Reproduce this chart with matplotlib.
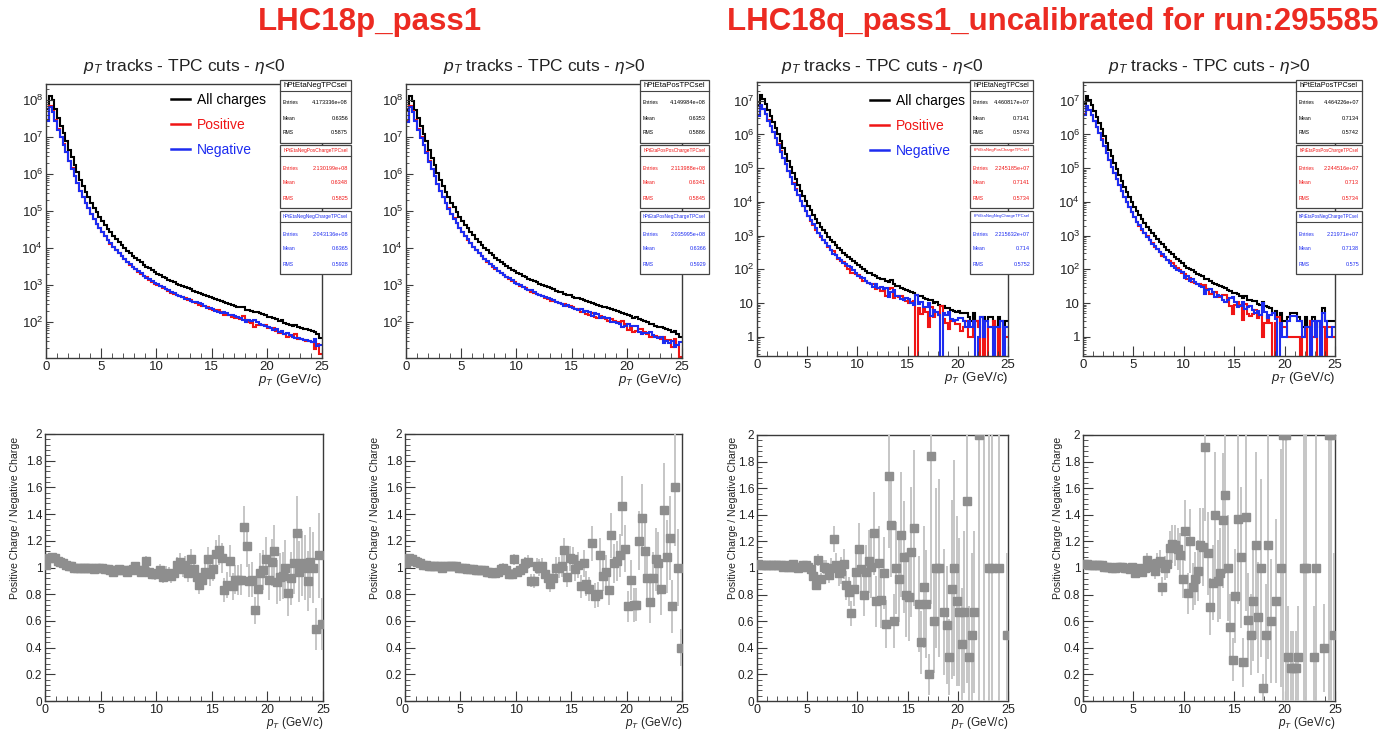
import numpy as np
import matplotlib.pyplot as plt
from matplotlib.lines import Line2D
from matplotlib.patches import Rectangle
from matplotlib.ticker import MultipleLocator, LogLocator, FuncFormatter, NullFormatter
from matplotlib.transforms import offset_copy

plt.rcParams['font.family'] = ['Liberation Sans', 'DejaVu Sans']
plt.rcParams['mathtext.fontset'] = 'custom'
plt.rcParams['mathtext.rm'] = 'Liberation Sans'
plt.rcParams['mathtext.it'] = 'Liberation Sans:italic'
plt.rcParams['mathtext.bf'] = 'Liberation Sans:bold'

W, H = 1397, 731
edges = np.linspace(0, 25, 101)
centers = 0.5 * (edges[:-1] + edges[1:])
inf = np.inf

# log10 of the all-charges counts per 0.25 GeV/c bin
logn_p_neg = [7.75, 8.12, 8.00, 7.75, 7.50, 7.30, 7.10, 6.90, 6.65, 6.45,
              6.25, 6.05, 5.85, 5.68, 5.52, 5.37, 5.22, 5.09, 4.96, 4.84,
              4.73, 4.62, 4.52, 4.42, 4.33, 4.24, 4.16, 4.08, 4.00, 3.93,
              3.86, 3.79, 3.73, 3.67, 3.61, 3.55, 3.50, 3.45, 3.40, 3.35,
              3.31, 3.27, 3.23, 3.19, 3.15, 3.11, 3.08, 3.04, 3.01, 2.98,
              2.94, 2.91, 2.88, 2.85, 2.82, 2.79, 2.76, 2.73, 2.70, 2.67,
              2.64, 2.62, 2.59, 2.56, 2.54, 2.52, 2.49, 2.47, 2.44, 2.42,
              2.40, 2.41, 2.33, 2.33, 2.31, 2.27, 2.26, 2.24, 2.22, 2.20,
              2.15, 2.14, 2.12, 2.08, 2.02, 2.05, 1.98, 1.95, 1.93, 1.90,
              1.92, 1.86, 1.85, 1.82, 1.80, 1.79, 1.76, 1.72, 1.68, 1.58]
logn_p_pos = [7.72, 8.12, 7.98, 7.74, 7.50, 7.29, 7.09, 6.88, 6.64, 6.44,
              6.24, 6.04, 5.85, 5.68, 5.52, 5.37, 5.23, 5.10, 4.97, 4.85,
              4.74, 4.63, 4.53, 4.43, 4.34, 4.25, 4.17, 4.09, 4.01, 3.94,
              3.87, 3.80, 3.74, 3.68, 3.62, 3.57, 3.52, 3.47, 3.42, 3.37,
              3.33, 3.29, 3.25, 3.21, 3.17, 3.14, 3.10, 3.07, 3.04, 3.00,
              2.97, 2.94, 2.91, 2.88, 2.85, 2.82, 2.80, 2.77, 2.74, 2.72,
              2.69, 2.66, 2.64, 2.61, 2.59, 2.56, 2.54, 2.51, 2.49, 2.47,
              2.44, 2.42, 2.40, 2.37, 2.35, 2.32, 2.30, 2.28, 2.25, 2.23,
              2.18, 2.17, 2.12, 2.14, 2.08, 2.06, 2.02, 2.00, 1.96, 1.94,
              1.90, 1.88, 1.87, 1.83, 1.80, 1.78, 1.72, 1.75, 1.68, 1.60]
logn_q_neg = [6.87, 7.17, 7.05, 6.90, 6.72, 6.55, 6.38, 6.20, 6.00, 5.80,
              5.60, 5.42, 5.22, 5.03, 4.85, 4.67, 4.50, 4.33, 4.18, 4.03,
              3.88, 3.75, 3.62, 3.50, 3.38, 3.27, 3.17, 3.07, 2.97, 2.88,
              2.80, 2.72, 2.62, 2.56, 2.50, 2.42, 2.36, 2.30, 2.24, 2.18,
              2.12, 2.06, 2.00, 1.95, 1.90, 1.88, 1.82, 1.80, 1.75, 1.72,
              1.70, 1.66, 1.62, 1.68, 1.58, 1.52, 1.50, 1.46, 1.42, 1.40,
              1.36, 1.32, 1.30, 1.25, 1.22, 1.20, 1.15, 1.12, 1.08, 1.08,
              1.00, 1.04, 0.95, 0.90, 0.92, 0.85, 0.85, 0.80, 0.78, 0.75,
              0.78, 0.70, 0.70, 0.70, 0.60, 0.48, 0.70, 0.48, 0.48, 0.60,
              0.60, 0.48, 0.60, 0.60, 0.48, 0.30, 0.60, 0.48, 0.30, 0.48]
logn_q_pos = [6.90, 7.15, 7.03, 6.88, 6.70, 6.52, 6.34, 6.15, 5.95, 5.75,
              5.55, 5.35, 5.15, 4.97, 4.80, 4.62, 4.45, 4.30, 4.15, 4.00,
              3.85, 3.72, 3.60, 3.48, 3.37, 3.27, 3.17, 3.07, 2.98, 2.90,
              2.82, 2.74, 2.66, 2.58, 2.52, 2.45, 2.38, 2.32, 2.26, 2.20,
              2.10, 2.05, 2.00, 1.97, 1.92, 1.87, 1.84, 1.80, 1.72, 1.70,
              1.66, 1.60, 1.56, 1.53, 1.50, 1.47, 1.45, 1.40, 1.35, 1.30,
              1.30, 1.27, 1.22, 1.15, 1.20, 1.10, 1.08, 1.05, 1.05, 0.98,
              0.95, 1.04, 0.90, 0.88, 0.85, 0.70, 0.78, 0.60, 0.70, 0.48,
              0.48, 0.60, 0.70, 0.70, 0.70, 0.60, 0.48, 0.30, 0.60, 0.30,
              0.48, 0.60, 0.30, 0.48, 0.30, 0.85, 0.48, 0.48, 0.48, 0.48]

# positive / negative ratio per bin (0: no positive track, inf: no negative track)
ratio_p_neg = [1.02, 1.07, 1.08, 1.07, 1.05, 1.04, 1.03, 1.02, 1.01, 1.01,
               1.00, 1.00, 1.00, 1.00, 1.00, 1.00, 1.00, 0.99, 1.00, 1.00,
               1.00, 0.99, 0.99, 0.98, 0.97, 0.98, 0.99, 0.98, 0.98, 0.97,
               0.98, 0.99, 1.01, 0.98, 0.97, 0.98, 1.05, 0.97, 0.95, 0.95,
               0.96, 0.98, 0.93, 0.96, 0.95, 0.94, 0.96, 1.02, 1.04, 0.99,
               1.02, 0.96, 1.06, 0.99, 0.93, 0.87, 0.91, 0.97, 1.06, 0.95,
               0.99, 1.10, 1.13, 1.07, 0.83, 0.87, 1.05, 0.86, 0.91, 0.91,
               0.91, 1.30, 1.16, 0.90, 0.91, 0.68, 0.84, 0.96, 0.98, 1.06,
               0.91, 1.04, 1.12, 0.89, 0.93, 0.94, 1.00, 0.81, 0.92, 1.03,
               1.26, 0.97, 1.03, 1.00, 0.90, 1.04, 1.00, 0.54, 1.09, 0.58]
ratio_p_pos = [1.03, 1.07, 1.06, 1.05, 1.04, 1.03, 1.02, 1.02, 1.01, 1.01,
               1.01, 1.01, 1.01, 1.00, 1.01, 1.01, 1.01, 1.01, 1.01, 1.00,
               1.00, 1.00, 0.99, 0.99, 0.99, 0.98, 0.98, 0.98, 0.98, 0.97,
               0.97, 0.96, 0.96, 0.97, 0.99, 1.00, 0.98, 0.95, 0.95, 1.06,
               0.97, 0.98, 1.00, 1.03, 1.04, 0.90, 0.90, 1.01, 1.00, 1.01,
               0.95, 0.92, 0.88, 0.92, 1.00, 1.00, 1.01, 1.13, 0.93, 1.07,
               1.06, 0.99, 1.02, 0.86, 1.03, 0.88, 0.84, 1.18, 0.79, 0.80,
               1.09, 0.94, 0.97, 0.83, 1.24, 1.03, 1.05, 1.09, 1.46, 1.14,
               0.71, 0.91, 0.72, 0.72, 1.20, 1.37, 1.12, 0.92, 0.74, 0.92,
               1.06, 1.03, 0.84, 1.43, 1.08, 1.22, 0.71, 1.60, 1.00, 0.40]
ratio_q_neg = [1.03, 1.02, 1.02, 1.02, 1.02, 1.02, 1.02, 1.02, 1.02, 1.02,
               1.01, 1.02, 1.01, 1.01, 1.03, 1.01, 1.00, 1.01, 1.02, 1.02,
               1.01, 0.99, 0.94, 0.87, 1.06, 0.92, 1.01, 1.00, 0.95, 1.00,
               1.22, 1.02, 0.96, 0.98, 1.03, 0.87, 0.82, 0.66, 0.84, 0.97,
               1.14, 0.99, 0.80, 0.97, 1.05, 1.01, 1.26, 0.75, 1.04, 0.76,
               0.96, 0.58, 1.69, 1.32, 0.60, 1.00, 0.92, 1.25, 1.08, 0.80,
               0.78, 1.12, 1.30, 0, 0.73, 0.44, 0.86, 0.73, 0.20, 1.84,
               0.60, 1.00, 1.00, inf, 0.67, 0.57, 0.33, 0.84, 1.00, 0.75,
               0.67, 0.43, 0.67, 1.50, 0.33, 0.50, 0.67, inf, 2.00, 0,
               3.00, 0, 1.00, 1.00, inf, 0, 1.00, 0, inf, 0.50]
ratio_q_pos = [1.03, 1.03, 1.02, 1.02, 1.02, 1.02, 1.02, 1.02, 1.01, 1.01,
               1.01, 1.00, 1.00, 1.01, 1.01, 1.01, 1.00, 1.00, 0.99, 1.01,
               0.96, 1.00, 0.99, 0.97, 1.00, 1.06, 1.03, 1.01, 0.98, 1.04,
               1.05, 0.86, 1.00, 1.03, 1.15, 1.18, 1.17, 1.14, 1.10, 0.92,
               1.28, 0.81, 1.20, 0.86, 0.92, 0.98, 1.17, 1.16, 1.91, 1.11,
               0.71, 0.89, 1.40, 0.90, 0.96, 1.36, 1.55, 1.00, 0.56, 0.31,
               0.79, 1.37, 1.08, 0.29, 1.38, 0.61, 0.50, 0.75, 1.17, 0.63,
               1.00, 0.10, 0.50, 1.17, 0.60, 0, 0.75, inf, 1.00, 2.00,
               2.00, 0.33, 0.25, 0.25, 0.25, 0.33, 0, 1.00, 1.00, 0,
               inf, 0.33, 1.00, 0, inf, 0.40, 0, 2.00, 2.00, 0.50]

titles = [r'$p_{T}$ tracks - TPC cuts - $\eta$<0', r'$p_{T}$ tracks - TPC cuts - $\eta$>0',
          r'$p_{T}$ tracks - TPC cuts - $\eta$<0', r'$p_{T}$ tracks - TPC cuts - $\eta$>0']
hist_names = [['hPtEtaNegTPCsel', 'hPtEtaNegPosChargeTPCsel', 'hPtEtaNegNegChargeTPCsel'],
              ['hPtEtaPosTPCsel', 'hPtEtaPosPosChargeTPCsel', 'hPtEtaPosNegChargeTPCsel'],
              ['hPtEtaNegTPCsel', 'hPtEtaNegPosChargeTPCsel', 'hPtEtaNegNegChargeTPCsel'],
              ['hPtEtaPosTPCsel', 'hPtEtaPosPosChargeTPCsel', 'hPtEtaPosNegChargeTPCsel']]
entries = [['4.173336e+08', '2.130199e+08', '2.043136e+08'],
           ['4.149984e+08', '2.113988e+08', '2.035995e+08'],
           ['4.460817e+07', '2.245185e+07', '2.215632e+07'],
           ['4.464226e+07', '2.244516e+07', '2.21971e+07']]
means = [['0.6356', '0.6348', '0.6365'], ['0.6353', '0.6341', '0.6366'],
         ['0.7141', '0.7141', '0.714'], ['0.7134', '0.713', '0.7138']]
rmss = [['0.5875', '0.5825', '0.5928'], ['0.5886', '0.5845', '0.5929'],
        ['0.5743', '0.5734', '0.5752'], ['0.5742', '0.5734', '0.575']]

logns = [logn_p_neg, logn_p_pos, logn_q_neg, logn_q_pos]
ratios = [ratio_p_neg, ratio_p_pos, ratio_q_neg, ratio_q_pos]

RED, BLUE = '#f01515', '#1d2cf0'
colors = ['black', RED, BLUE]

# pixel layout (left, right, top, bottom)
top_boxes = [(46, 322, 84, 358), (406, 682, 84, 358), (757, 1008, 82, 356), (1083, 1335, 82, 356)]
bot_boxes = [(45, 323, 434, 701), (405, 682, 434, 701), (757, 1008, 435, 701), (1083, 1335, 435, 701)]
ylims_top = [(10.7, 2.7e8), (10.7, 2.7e8), (0.27, 3.6e7), (0.27, 3.6e7)]
stat_x = [(280, 71), (640, 69), (970, 63), (1296, 66)]
ylab_x = [15, 375, 733, 1058]
legend_pos = [(171, 93), None, (870, 94), None]

fig = plt.figure(figsize=(W / 100, H / 100), dpi=100)


def px_axes(l, r, t, b):
    return fig.add_axes([l / W, 1 - b / H, (r - l) / W, (b - t) / H])


def root_style(ax, xlab_px, xlab_size):
    for s in ax.spines.values():
        s.set_color('#3a3a3a')
        s.set_linewidth(1.0)
    ax.set_xlim(0, 25)
    ax.xaxis.set_major_locator(MultipleLocator(5))
    ax.xaxis.set_minor_locator(MultipleLocator(1))
    ax.tick_params(which='both', direction='in', top=False, right=False,
                   labelsize=9.5, colors='#3a3a3a', labelcolor='#222222', pad=2)
    ax.tick_params(which='major', length=7)
    ax.tick_params(which='minor', length=3.5)
    tr = offset_copy(ax.transAxes, fig=fig, x=0, y=-xlab_px, units='dots')
    ax.text(1.0, 0.0, r'$p_{T}$ (GeV/c)', transform=tr,
            ha='right', va='top', fontsize=xlab_size, color='#222222')


def log_label(v, pos):
    k = int(round(np.log10(v)))
    if k == 0:
        return '1'
    if k == 1:
        return '10'
    return r'$10^{%d}$' % k


def stat_box(x0, w, top, name, ent, mean, rms, color):
    h = 63
    fig.add_artist(Rectangle((x0 / W, 1 - (top + h) / H), w / W, h / H, transform=fig.transFigure,
                             facecolor='white', edgecolor='#444444', lw=0.9, zorder=5))
    fig.add_artist(Line2D([x0 / W, (x0 + w) / W], [1 - (top + 11) / H] * 2, transform=fig.transFigure,
                          color='#444444', lw=0.8, zorder=6))
    hs = min(6.0, (w - 5) / (len(name) * 0.56 * 1.389))
    fig.text((x0 + w / 2) / W, 1 - (top + 5.5) / H, name, ha='center', va='center',
             fontsize=hs, color=color, zorder=7)
    for i, (lab, val) in enumerate([('Entries', ent), ('Mean', mean), ('RMS', rms)]):
        yy = 1 - (top + 23 + 15 * i) / H
        fig.text((x0 + 3) / W, yy, lab, ha='left', va='center', fontsize=3.6, color=color, zorder=7)
        fig.text((x0 + w - 3) / W, yy, val, ha='right', va='center', fontsize=4.0, color=color, zorder=7)


for k in range(4):
    n_all = 10 ** np.array(logns[k])
    r = np.array(ratios[k], dtype=float)
    with np.errstate(invalid='ignore', divide='ignore'):
        frac = np.where(np.isinf(r), 1.0, r / (1 + np.where(np.isinf(r), 0, r)))
    n_pos = n_all * frac
    n_neg = n_all - n_pos

    # spectra
    ax = px_axes(*top_boxes[k])
    ax.set_yscale('log')
    for vals, c in zip([n_all, n_pos, n_neg], colors):
        ax.stairs(np.where(vals > 0, vals, 1e-3), edges, color=c, lw=1.5, baseline=None)
    ax.set_ylim(*ylims_top[k])
    root_style(ax, 14, 9.5)
    ax.yaxis.set_major_locator(LogLocator(base=10, numticks=12))
    ax.yaxis.set_major_formatter(FuncFormatter(log_label))
    ax.yaxis.set_minor_locator(LogLocator(base=10, subs=np.arange(2, 10), numticks=12))
    ax.yaxis.set_minor_formatter(NullFormatter())
    ax.tick_params(axis='y', which='major', length=5)
    ax.tick_params(axis='y', which='minor', length=2.5)
    l, rr, t, b = top_boxes[k]
    fig.text((l + rr) / 2 / W, 1 - 66 / H, titles[k], ha='center', va='center', fontsize=12.5, color='#222222')

    if legend_pos[k] is not None:
        handles = [Line2D([], [], color=c, lw=1.8) for c in colors]
        ax.legend(handles, ['All charges', 'Positive', 'Negative'], loc='upper left',
                  bbox_to_anchor=(legend_pos[k][0] / W, 1 - legend_pos[k][1] / H),
                  bbox_transform=fig.transFigure, frameon=False, fontsize=10,
                  handlelength=1.4, handletextpad=0.45, labelspacing=0.78,
                  borderpad=0, borderaxespad=0, labelcolor='linecolor')

    sx, sw = stat_x[k]
    for j, top in enumerate([80, 145, 211]):
        stat_box(sx, sw, top, hist_names[k][j], entries[k][j], means[k][j], rmss[k][j], colors[j])

    # ratio
    ax2 = px_axes(*bot_boxes[k])
    ok = np.isfinite(r) & (r > 0)
    err = r[ok] * np.sqrt(1 / n_pos[ok] + 1 / n_neg[ok])
    ax2.errorbar(centers[ok], r[ok], yerr=err, fmt='s', color='#8e8e8e', ms=5.5,
                 ecolor='#c6c6c6', elinewidth=1.4, capsize=0, zorder=3)
    ax2.set_ylim(0, 2)
    root_style(ax2, 14, 8.5)
    ax2.tick_params(axis='x', labelsize=9)
    ax2.yaxis.set_major_locator(MultipleLocator(0.2))
    ax2.yaxis.set_minor_locator(MultipleLocator(0.04))
    ax2.yaxis.set_major_formatter(FuncFormatter(lambda v, p: '%g' % round(v, 2)))
    ax2.tick_params(axis='y', which='major', length=7, labelsize=8.5)
    ax2.tick_params(axis='y', which='minor', length=3.5)
    fig.text(ylab_x[k] / W, 1 - 437 / H, 'Positive Charge / Negative Charge', rotation=90,
             ha='center', va='top', fontsize=7.6, color='#222222')

big = dict(ha='center', va='baseline', fontsize=22.5, fontweight='bold', color='#ec2b22')
fig.text(370 / W, 1 - 30 / H, 'LHC18p_pass1', **big)
fig.text(1053 / W, 1 - 30 / H, 'LHC18q_pass1_uncalibrated for run:295585', **big)

fig.savefig('out.png', dpi=100)
